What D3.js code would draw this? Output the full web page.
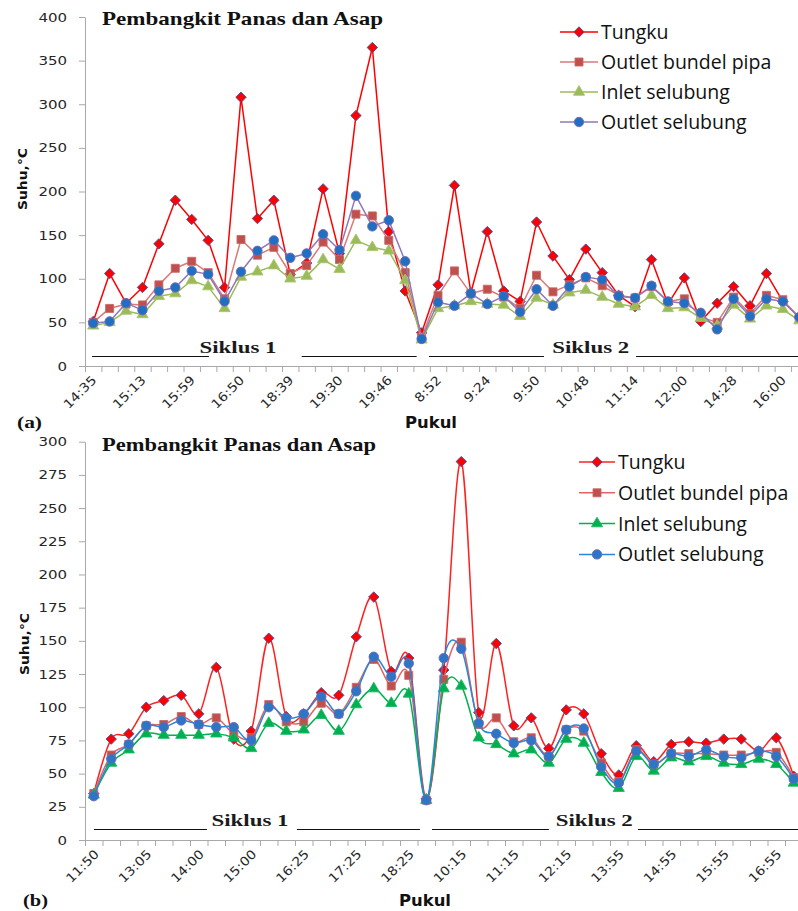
<!DOCTYPE html>
<html>
<head>
<meta charset="utf-8">
<script src="https://cdn.jsdelivr.net/npm/d3@7"></script>
<style>
  html, body { margin: 0; padding: 0; background: #fff; }
  svg { display: block; }
</style>
</head>
<body>
<svg id="chart" width="798" height="911"></svg>
<script>
// ---- Data -------------------------------------------------------------
const seriesNames = ["Tungku", "Outlet bundel pipa", "Inlet selubung", "Outlet selubung"];

// Panel (a): 44 readings, a label on every third one
const timeLabelsA = ["14:35", "15:13", "15:59", "16:50", "18:39", "19:30", "19:46",
                     "8:52", "9:24", "9:50", "10:48", "11:14", "12:00", "14:28", "16:00"];
const tungkuA = [51, 106, 72, 90, 140, 190, 168, 144, 90, 308, 169, 190, 105, 118, 203, 129, 287, 365, 154, 86,
                 38, 93, 207, 84, 154, 86, 74, 165, 126, 99, 134, 107, 81, 68, 122, 71, 101, 51, 72, 91, 69, 106, 74, 56];
const bundelA = [50, 66, 71, 70, 93, 112, 120, 107, 77, 145, 127, 136, 106, 115, 142, 122, 174, 172, 144, 107,
                 33, 81, 109, 83, 88, 79, 66, 104, 85, 93, 101, 92, 81, 78, 91, 74, 77, 56, 50, 79, 60, 81, 76, 55];
const inletA  = [46, 50, 63, 59, 80, 83, 98, 91, 66, 102, 108, 115, 100, 103, 122, 111, 144, 136, 132, 98,
                 30, 66, 69, 74, 71, 70, 57, 78, 70, 84, 87, 79, 71, 68, 81, 66, 67, 55, 46, 70, 54, 69, 65, 52];
const outletA = [49, 51, 72, 64, 86, 90, 109, 105, 74, 108, 132, 144, 124, 129, 151, 133, 195, 160, 167, 120,
                 31, 73, 69, 83, 71, 80, 62, 88, 69, 91, 102, 99, 80, 78, 92, 74, 72, 61, 42, 77, 57, 77, 74, 56];
const yTicksA = [0, 50, 100, 150, 200, 250, 300, 350, 400];

// Panel (b): 41 readings, a label on every third one
const timeLabelsB = ["11:50", "13:05", "14:00", "15:00", "16:25", "17:25", "18:25",
                     "10:15", "11:15", "12:15", "13:55", "14:55", "15:55", "16:55"];
const tungkuB = [35, 76, 80, 100, 105, 109, 95, 130, 76, 82, 152, 93, 95, 111, 109, 153, 183, 127, 137, 31,
                 128, 285, 96, 148, 86, 92, 69, 98, 95, 65, 49, 71, 59, 72, 74, 73, 76, 76, 67, 77, 48];
const bundelB = [35, 64, 72, 86, 87, 93, 87, 92, 80, 77, 102, 89, 89, 103, 95, 115, 136, 116, 124, 30,
                 121, 149, 87, 92, 74, 77, 63, 83, 82, 58, 44, 68, 57, 65, 65, 65, 64, 64, 66, 66, 47];
const inletB  = [34, 58, 68, 80, 79, 79, 79, 80, 77, 69, 88, 82, 83, 94, 82, 102, 114, 103, 110, 30,
                 114, 116, 77, 72, 65, 68, 58, 76, 73, 51, 39, 63, 52, 62, 59, 63, 58, 57, 61, 57, 43];
const outletB = [33, 61, 72, 86, 85, 90, 87, 85, 85, 75, 100, 92, 95, 108, 95, 112, 138, 123, 133, 30,
                 137, 144, 88, 80, 73, 75, 63, 83, 84, 55, 43, 67, 57, 65, 63, 68, 63, 62, 67, 63, 46];
const yTicksB = [0, 25, 50, 75, 100, 125, 150, 175, 200, 225, 250, 275, 300];

const cycleNames = ["Siklus 1", "Siklus 2"];

// ---- Drawing ----------------------------------------------------------
const svg = d3.select("#chart");
const axisGray = "#a9a9a9";

// Stretch a text run horizontally by a factor of its natural width
function widen(sel, factor) {
  sel.each(function () {
    const w = this.getComputedTextLength();
    d3.select(this).attr("textLength", w * factor).attr("lengthAdjust", "spacingAndGlyphs");
  });
}
function fitTo(sel, width) {
  sel.attr("textLength", width).attr("lengthAdjust", "spacingAndGlyphs");
}

const markerShapes = [
  { type: d3.symbolSquare, size: 54, rot: 45 },   // diamond
  { type: d3.symbolSquare, size: 64, rot: 0 },    // square
  { type: d3.symbolTriangle, size: 54, rot: 0 },  // triangle
  { type: d3.symbolCircle, size: 70, rot: 0 }     // circle
];

function drawPanel(p) {
  const g = svg.append("g");
  const y = d3.scaleLinear().domain([0, p.yMax]).range([p.bottom, p.top]);
  const xb = d3.scaleLinear().domain([0, p.n]).range([p.left, p.left + p.n * p.step]);
  const x = i => xb(i + 0.5);

  // Y axis
  const ya = g.append("g").attr("transform", `translate(${p.left},0)`)
    .call(d3.axisLeft(y).tickValues(p.yTicks).tickSize(6).tickSizeOuter(0).tickPadding(12));
  ya.select(".domain").attr("stroke", axisGray);
  ya.selectAll(".tick line").attr("stroke", axisGray);
  ya.selectAll(".tick text")
    .attr("font-family", "DejaVu Sans, Verdana, sans-serif")
    .attr("font-size", 12.5)
    .attr("fill", "#262626")
    .call(widen, 1.2);

  // X axis: tick marks sit on the category boundaries
  const xa = g.append("g").attr("transform", `translate(0,${p.bottom})`)
    .call(d3.axisBottom(xb).tickValues(d3.range(p.n + 1)).tickSize(6).tickSizeOuter(0).tickFormat(""));
  xa.select(".domain").attr("stroke", axisGray);
  xa.selectAll(".tick line").attr("stroke", axisGray);

  g.append("g").selectAll("text").data(p.labels).join("text")
    .attr("transform", (d, i) => `translate(${x(i * 3) + p.labelDx},${p.bottom + p.labelDy}) rotate(-45)`)
    .attr("text-anchor", "end")
    .attr("font-family", "DejaVu Sans, Verdana, sans-serif")
    .attr("font-size", 12.5)
    .attr("fill", "#262626")
    .text(d => d)
    .call(widen, 1.12);

  // Series: line first, then its markers
  const line = d3.line().x((d, i) => x(i)).y(d => y(d)).curve(p.curve);
  p.series.forEach((vals, s) => {
    g.append("path").datum(vals)
      .attr("d", line)
      .attr("fill", "none")
      .attr("stroke", p.lineColors[s])
      .attr("stroke-width", 1.5)
      .attr("stroke-linejoin", "round");
    const m = markerShapes[s];
    const sym = d3.symbol(m.type, m.size);
    g.append("g").selectAll("path").data(vals).join("path")
      .attr("d", sym)
      .attr("transform", (d, i) => `translate(${x(i)},${y(d)}) rotate(${m.rot})`)
      .attr("fill", p.markerFill[s])
      .attr("stroke", p.markerStroke[s])
      .attr("stroke-width", 0.9);
  });

  // Cycle annotations along the bottom
  const cyc = g.append("g").attr("stroke", "#111").attr("stroke-width", 1);
  p.cycleSegments.forEach(([a, b]) => {
    cyc.append("line").attr("x1", xb(a)).attr("x2", xb(b)).attr("y1", p.cycleY + 0.5).attr("y2", p.cycleY + 0.5);
  });
  g.append("g").selectAll("text").data(cycleNames).join("text")
    .attr("x", (d, i) => xb(p.cycleTextAt[i]))
    .attr("y", p.cycleY - 3)
    .attr("text-anchor", "middle")
    .attr("font-family", "Liberation Serif, Times New Roman, serif")
    .attr("font-weight", "bold")
    .attr("font-size", 16)
    .attr("fill", "#1a1a1a")
    .text(d => d)
    .call(fitTo, 77);

  // Title
  g.append("text")
    .attr("x", 102).attr("y", p.titleY)
    .attr("font-family", "Liberation Serif, Times New Roman, serif")
    .attr("font-weight", "bold")
    .attr("font-size", 19.5)
    .attr("fill", "#111")
    .text("Pembangkit Panas dan Asap")
    .call(fitTo, p.titleW);

  // Y axis title
  g.append("text")
    .attr("transform", `translate(${p.yTitleX},${p.yTitleY}) rotate(-90)`)
    .attr("text-anchor", "middle")
    .attr("font-family", "DejaVu Sans, Verdana, sans-serif")
    .attr("font-weight", "bold")
    .attr("font-size", 13)
    .attr("fill", "#111")
    .text("Suhu,°C")
    .call(fitTo, 62);

  // X axis title and panel tag
  g.append("text")
    .attr("x", p.xTitleX).attr("y", p.xTitleY)
    .attr("text-anchor", "middle")
    .attr("font-family", "DejaVu Sans, Verdana, sans-serif")
    .attr("font-weight", "bold")
    .attr("font-size", 15)
    .attr("fill", "#111")
    .text("Pukul")
    .call(fitTo, 52);
  g.append("text")
    .attr("x", p.tagX).attr("y", p.xTitleY)
    .attr("font-family", "Liberation Serif, Times New Roman, serif")
    .attr("font-weight", "bold")
    .attr("font-size", 16)
    .attr("fill", "#111")
    .text(p.tag)
    .call(fitTo, 25);

  // Legend
  const lg = g.append("g");
  seriesNames.forEach((name, s) => {
    const cy = p.legendY + s * p.legendGap;
    lg.append("line")
      .attr("x1", p.legendX).attr("x2", p.legendX + p.legendLine)
      .attr("y1", cy).attr("y2", cy)
      .attr("stroke", p.lineColors[s]).attr("stroke-width", 1.5);
    const m = markerShapes[s];
    lg.append("path")
      .attr("d", d3.symbol(m.type, m.size))
      .attr("transform", `translate(${p.legendX + p.legendLine / 2},${cy}) rotate(${m.rot})`)
      .attr("fill", p.markerFill[s])
      .attr("stroke", p.markerStroke[s])
      .attr("stroke-width", 0.9);
    lg.append("text")
      .attr("x", p.legendX + p.legendLine + 3).attr("y", cy + 7)
      .attr("font-family", "Open Sans, sans-serif")
      .attr("font-size", 19.5)
      .attr("fill", "#111")
      .text(name);
  });
}

drawPanel({
  n: 44, left: 85, step: 16.42, top: 17, bottom: 366, yMax: 400, yTicks: yTicksA,
  labels: timeLabelsA, labelDx: 4, labelDy: 15,
  series: [tungkuA, bundelA, inletA, outletA],
  curve: d3.curveLinear,
  lineColors: ["#ff0000", "#d77a78", "#9bbb59", "#8d78b8"],
  markerFill: ["#ff0000", "#c0504d", "#9bbb59", "#1f6fc2"],
  markerStroke: ["#4a4f9c", "#c86a67", "#a9c56f", "#7b68b0"],
  cycleY: 356,
  cycleSegments: [[0.43, 7.55], [13.2, 20.2], [20.95, 27.95], [33.56, 44]],
  cycleTextAt: [9.32, 30.8],
  titleY: 25, titleW: 281,
  yTitleX: 27, yTitleY: 179,
  xTitleX: 431, xTitleY: 428, tag: "(a)", tagX: 17,
  legendX: 560, legendLine: 38, legendY: 32, legendGap: 30
});

drawPanel({
  n: 41, left: 85, step: 17.5, top: 441.7, bottom: 840, yMax: 300, yTicks: yTicksB,
  labels: timeLabelsB, labelDx: 6, labelDy: 15,
  series: [tungkuB, bundelB, inletB, outletB],
  curve: d3.curveCatmullRom.alpha(0),
  lineColors: ["#ff2020", "#e06464", "#00b050", "#2a86d6"],
  markerFill: ["#ff0000", "#c0504d", "#00b050", "#2e75c6"],
  markerStroke: ["#4a4f9c", "#c86a67", "#1cb862", "#6a6ab8"],
  cycleY: 829,
  cycleSegments: [[0.51, 6.97], [12.11, 19.14], [19.83, 26.51], [31.6, 41]],
  cycleTextAt: [9.43, 29.1],
  titleY: 451, titleW: 274,
  yTitleX: 29, yTitleY: 644,
  xTitleX: 425, xTitleY: 906, tag: "(b)", tagX: 23,
  legendX: 579, legendLine: 36, legendY: 462, legendGap: 30.8
});
</script>
</body>
</html>
